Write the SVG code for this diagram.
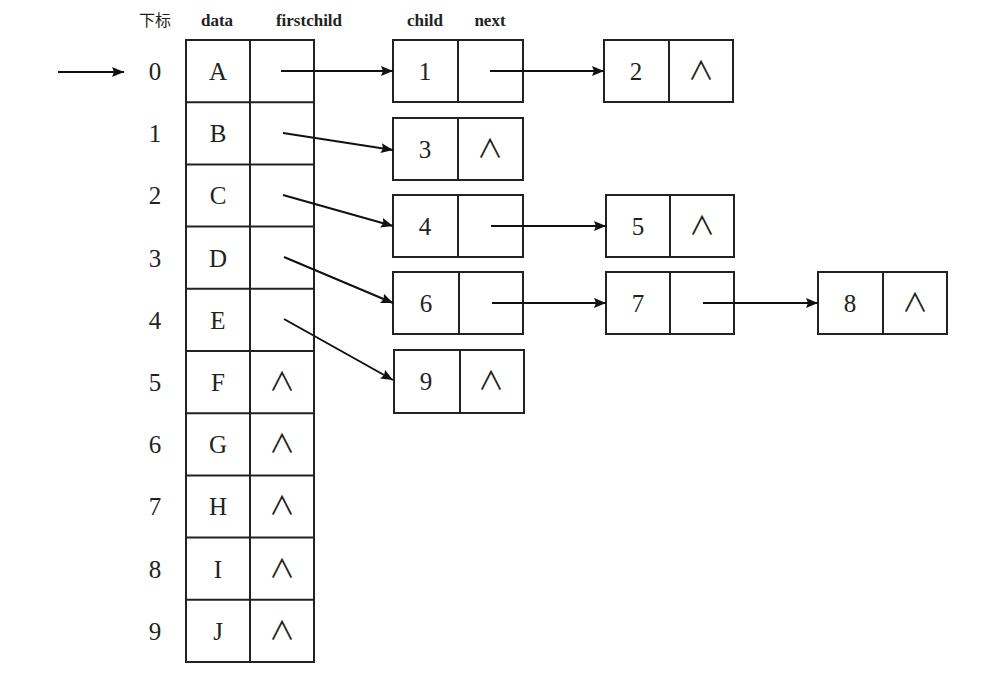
<svg xmlns="http://www.w3.org/2000/svg" width="1000" height="682" viewBox="0 0 1000 682">
<defs>
<marker id="ah" viewBox="0 0 12 10" refX="12" refY="5" markerWidth="12" markerHeight="10" markerUnits="userSpaceOnUse" orient="auto">
<path d="M0,0 L12,5 L0,10 L2,5 Z" fill="#111"/>
</marker>
<style>
rect, line.cell { fill: none; stroke: #222; stroke-width: 2; }
text { font-family: "Liberation Serif", "Noto Sans CJK SC", serif; fill: #222; text-anchor: middle; dominant-baseline: central; }
.v { font-size: 25px; }
.h { font-size: 17px; font-weight: bold; }
.null { font-family: "Liberation Serif", "Noto Sans CJK SC", serif; font-size: 26px; }
.conn line { stroke: #111; stroke-width: 2; marker-end: url(#ah); }
</style>
</defs>
<rect width="1000" height="682" fill="#fff" style="stroke:none"/>
<g id="headers">
<text class="h" x="155" y="20" style="font-weight:normal;font-size:16px">下标</text>
<text class="h" x="217" y="20">data</text>
<text class="h" x="309" y="20">firstchild</text>
<text class="h" x="425" y="20">child</text>
<text class="h" x="490" y="20">next</text>
</g>
<g id="table">
<rect x="186" y="40" width="128" height="622"/>
<line class="cell" x1="250" y1="40" x2="250" y2="662"/>
<line class="cell" x1="186" y1="102.2" x2="314" y2="102.2"/>
<line class="cell" x1="186" y1="164.4" x2="314" y2="164.4"/>
<line class="cell" x1="186" y1="226.6" x2="314" y2="226.6"/>
<line class="cell" x1="186" y1="288.8" x2="314" y2="288.8"/>
<line class="cell" x1="186" y1="351" x2="314" y2="351"/>
<line class="cell" x1="186" y1="413.2" x2="314" y2="413.2"/>
<line class="cell" x1="186" y1="475.4" x2="314" y2="475.4"/>
<line class="cell" x1="186" y1="537.6" x2="314" y2="537.6"/>
<line class="cell" x1="186" y1="599.8" x2="314" y2="599.8"/>
<g class="v">
<text x="155" y="71">0</text><text x="218" y="71">A</text>
<text x="155" y="133">1</text><text x="218" y="133">B</text>
<text x="155" y="195">2</text><text x="218" y="195">C</text>
<text x="155" y="258">3</text><text x="218" y="258">D</text>
<text x="155" y="320">4</text><text x="218" y="320">E</text>
<text x="155" y="382">5</text><text x="218" y="382">F</text>
<text x="155" y="444">6</text><text x="218" y="444">G</text>
<text x="155" y="506">7</text><text x="218" y="506">H</text>
<text x="155" y="569">8</text><text x="218" y="569">I</text>
<text x="155" y="631">9</text><text x="218" y="631">J</text>
</g>
<text class="null" x="282" y="382">∧</text>
<text class="null" x="282" y="444">∧</text>
<text class="null" x="282" y="506">∧</text>
<text class="null" x="282" y="569">∧</text>
<text class="null" x="282" y="631">∧</text>
</g>
<g id="n1"><rect x="393" y="40" width="130" height="62"/><line class="cell" x1="458" y1="40" x2="458" y2="102"/><text class="v" x="425" y="71">1</text></g>
<g id="n2"><rect x="604" y="40" width="129" height="62"/><line class="cell" x1="669" y1="40" x2="669" y2="102"/><text class="v" x="636" y="71">2</text><text class="null" x="701" y="71">∧</text></g>
<g id="n3"><rect x="393" y="118" width="130" height="62"/><line class="cell" x1="458" y1="118" x2="458" y2="180"/><text class="v" x="425" y="149">3</text><text class="null" x="490" y="149">∧</text></g>
<g id="n4"><rect x="393" y="195" width="130" height="62"/><line class="cell" x1="458" y1="195" x2="458" y2="257"/><text class="v" x="425" y="226">4</text></g>
<g id="n5"><rect x="606" y="195" width="128" height="62"/><line class="cell" x1="670" y1="195" x2="670" y2="257"/><text class="v" x="638" y="226">5</text><text class="null" x="702" y="226">∧</text></g>
<g id="n6"><rect x="393" y="272" width="130" height="62"/><line class="cell" x1="459" y1="272" x2="459" y2="334"/><text class="v" x="426" y="303">6</text></g>
<g id="n7"><rect x="606" y="272" width="128" height="62"/><line class="cell" x1="670" y1="272" x2="670" y2="334"/><text class="v" x="638" y="303">7</text></g>
<g id="n8"><rect x="818" y="272" width="129" height="62"/><line class="cell" x1="883" y1="272" x2="883" y2="334"/><text class="v" x="850" y="303">8</text><text class="null" x="915" y="303">∧</text></g>
<g id="n9"><rect x="394" y="350" width="130" height="63"/><line class="cell" x1="460" y1="350" x2="460" y2="413"/><text class="v" x="426" y="381">9</text><text class="null" x="491" y="381">∧</text></g>
<g id="connectors" class="conn">
<line x1="58" y1="72" x2="124" y2="72"/>
<line x1="281" y1="71" x2="393" y2="71"/>
<line x1="490" y1="71" x2="604" y2="71"/>
<line x1="283" y1="133" x2="393" y2="150"/>
<line x1="283" y1="195" x2="393" y2="226"/>
<line x1="284" y1="257" x2="393" y2="303"/>
<line x1="284" y1="319" x2="393" y2="380"/>
<line x1="491" y1="226" x2="606" y2="226"/>
<line x1="492" y1="303" x2="606" y2="303"/>
<line x1="703" y1="303" x2="818" y2="303"/>
</g>
</svg>
